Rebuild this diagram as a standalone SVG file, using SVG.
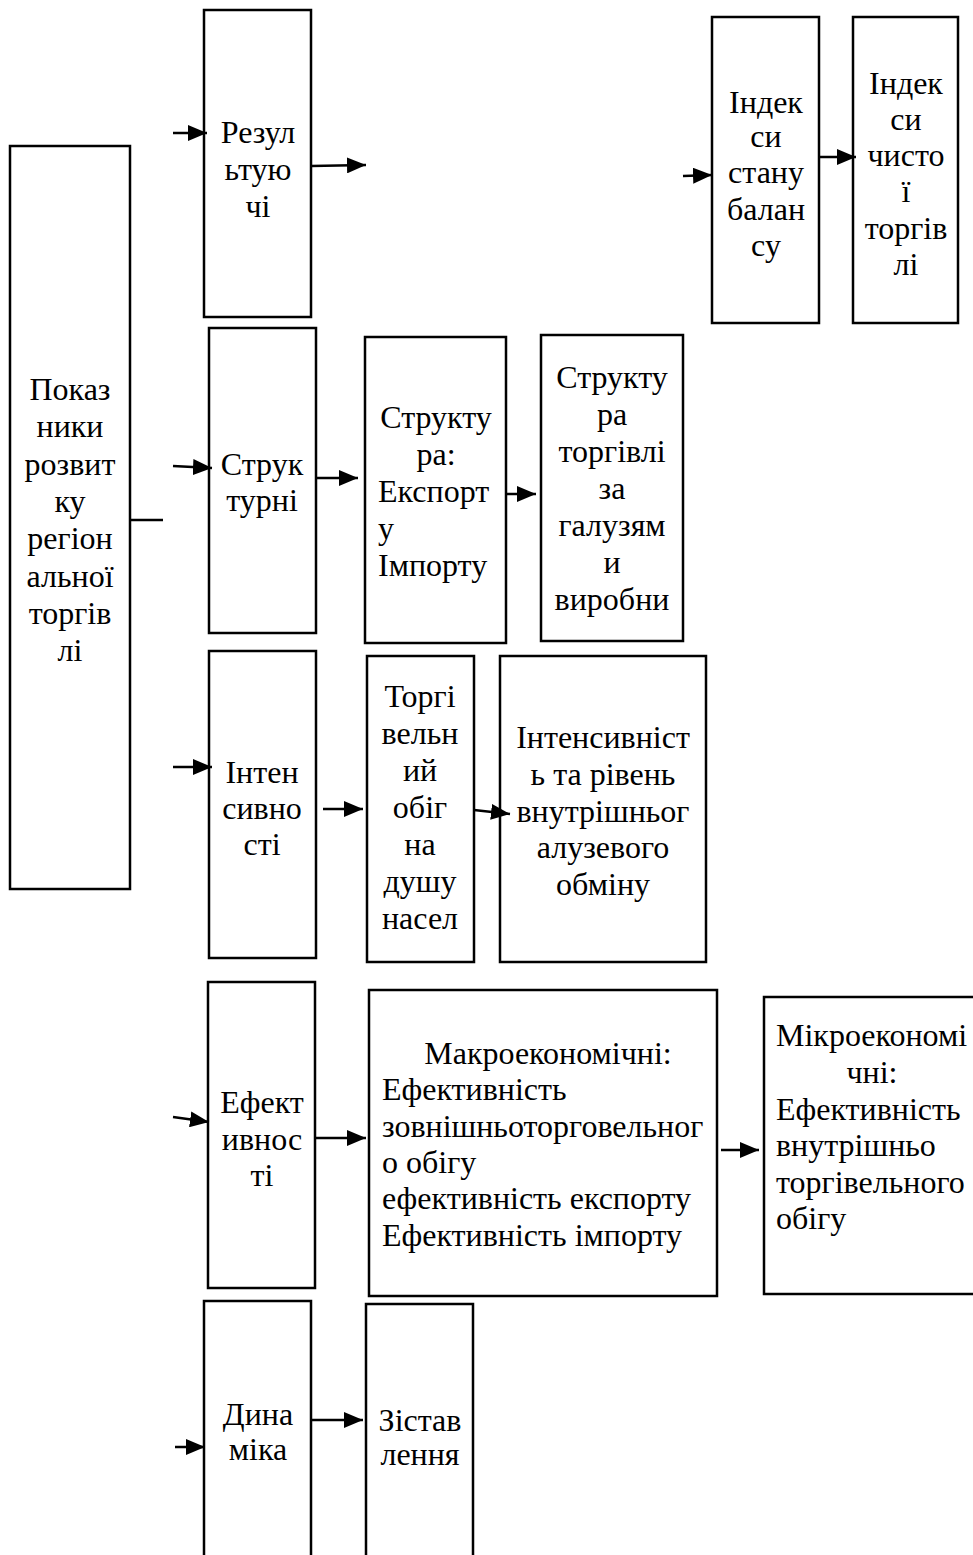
<svg xmlns="http://www.w3.org/2000/svg" width="973" height="1555" viewBox="0 0 973 1555">
<style>
.box{fill:#fff;stroke:#000;stroke-width:2.5}
.t{font-family:"Liberation Serif","Times New Roman",serif;font-size:32px;fill:#000;text-anchor:middle}
.l{text-anchor:start}
.c{stroke:#000;stroke-width:2.5;fill:none}
.a{marker-end:url(#ah)}
</style>
<defs>
<marker id="ah" markerUnits="userSpaceOnUse" viewBox="0 0 20 16" markerWidth="20" markerHeight="16" refX="19" refY="8" orient="auto">
<path d="M0,0 L19,8 L0,16 z" fill="#000"/>
</marker>
</defs>
<rect width="973" height="1555" fill="#fff"/>
<g id="n-main">
<rect class="box" x="10" y="146" width="120" height="743"/>
<text class="t" x="70" y="400">Показ</text>
<text class="t" x="70" y="437">ники</text>
<text class="t" x="70" y="475">розвит</text>
<text class="t" x="70" y="512">ку</text>
<text class="t" x="70" y="549">регіон</text>
<text class="t" x="70" y="587">альної</text>
<text class="t" x="70" y="624">торгів</text>
<text class="t" x="70" y="661">лі</text>
</g>
<g id="n-result">
<rect class="box" x="204" y="10" width="107" height="307"/>
<text class="t" x="258" y="143">Резул</text>
<text class="t" x="258" y="180">ьтую</text>
<text class="t" x="258" y="217">чі</text>
</g>
<g id="n-index-balance">
<rect class="box" x="712" y="17" width="107" height="306"/>
<text class="t" x="766" y="113">Індек</text>
<text class="t" x="766" y="147">си</text>
<text class="t" x="766" y="183">стану</text>
<text class="t" x="766" y="220">балан</text>
<text class="t" x="766" y="256">су</text>
</g>
<g id="n-index-net">
<rect class="box" x="853" y="17" width="105" height="306"/>
<text class="t" x="906" y="94">Індек</text>
<text class="t" x="906" y="130">си</text>
<text class="t" x="906" y="166">чисто</text>
<text class="t" x="906" y="202">ї</text>
<text class="t" x="906" y="239">торгів</text>
<text class="t" x="906" y="275">лі</text>
</g>
<g id="n-struct">
<rect class="box" x="209" y="328" width="107" height="305"/>
<text class="t" x="262" y="475">Струк</text>
<text class="t" x="262" y="511">турні</text>
</g>
<g id="n-struct-exp">
<rect class="box" x="365" y="337" width="141" height="306"/>
<text class="t" x="436" y="428">Структу</text>
<text class="t" x="436" y="465">ра:</text>
<text class="t l" x="378" y="502">Експорт</text>
<text class="t l" x="378" y="539">у</text>
<text class="t l" x="378" y="576">Імпорту</text>
</g>
<g id="n-struct-branch">
<rect class="box" x="541" y="335" width="142" height="306"/>
<text class="t" x="612" y="388">Структу</text>
<text class="t" x="612" y="425">ра</text>
<text class="t" x="612" y="462">торгівлі</text>
<text class="t" x="612" y="499">за</text>
<text class="t" x="612" y="536">галузям</text>
<text class="t" x="612" y="573">и</text>
<text class="t" x="612" y="610">виробни</text>
</g>
<g id="n-intens">
<rect class="box" x="209" y="651" width="107" height="307"/>
<text class="t" x="262" y="783">Інтен</text>
<text class="t" x="262" y="819">сивно</text>
<text class="t" x="262" y="855">сті</text>
</g>
<g id="n-turnover">
<rect class="box" x="367" y="656" width="107" height="306"/>
<text class="t" x="420" y="707">Торгі</text>
<text class="t" x="420" y="744">вельн</text>
<text class="t" x="420" y="781">ий</text>
<text class="t" x="420" y="818">обіг</text>
<text class="t" x="420" y="855">на</text>
<text class="t" x="420" y="892">душу</text>
<text class="t" x="420" y="929">насел</text>
</g>
<g id="n-intens-level">
<rect class="box" x="500" y="656" width="206" height="306"/>
<text class="t" x="603" y="748">Інтенсивніст</text>
<text class="t" x="603" y="785">ь та рівень</text>
<text class="t" x="603" y="822">внутрішньог</text>
<text class="t" x="603" y="858">алузевого</text>
<text class="t" x="603" y="895">обміну</text>
</g>
<g id="n-effect">
<rect class="box" x="208" y="982" width="107" height="306"/>
<text class="t" x="262" y="1113">Ефект</text>
<text class="t" x="262" y="1150">ивнос</text>
<text class="t" x="262" y="1186">ті</text>
</g>
<g id="n-macro">
<rect class="box" x="369" y="990" width="348" height="306"/>
<text class="t" x="548" y="1064">Макроекономічні:</text>
<text class="t l" x="382" y="1100">Ефективність</text>
<text class="t l" x="382" y="1137">зовнішньоторговельног</text>
<text class="t l" x="382" y="1173">о обігу</text>
<text class="t l" x="382" y="1209">ефективність експорту</text>
<text class="t l" x="382" y="1246">Ефективність імпорту</text>
</g>
<g id="n-micro">
<rect class="box" x="764" y="997" width="212" height="297"/>
<text class="t l" x="776" y="1046">Мікроекономі</text>
<text class="t" x="872" y="1083">чні:</text>
<text class="t l" x="776" y="1120">Ефективність</text>
<text class="t l" x="776" y="1156">внутрішньо</text>
<text class="t l" x="776" y="1193">торгівельного</text>
<text class="t l" x="776" y="1229">обігу</text>
</g>
<g id="n-dynamic">
<path class="c" d="M204,1560 V1301 H311 V1560"/>
<text class="t" x="258" y="1425">Дина</text>
<text class="t" x="258" y="1460">міка</text>
</g>
<g id="n-compare">
<path class="c" d="M366,1560 V1304 H473 V1560"/>
<text class="t" x="420" y="1431">Зістав</text>
<text class="t" x="420" y="1465">лення</text>
</g>
<g id="connectors">
<line class="c a" x1="173" y1="133" x2="207" y2="133"/>
<line class="c a" x1="311" y1="166" x2="366" y2="165"/>
<line class="c a" x1="683" y1="176" x2="712" y2="175"/>
<line class="c a" x1="819" y1="157" x2="856" y2="157"/>
<line class="c" x1="130" y1="520" x2="163" y2="520"/>
<line class="c a" x1="173" y1="466" x2="212" y2="468"/>
<line class="c a" x1="316" y1="478" x2="358" y2="478"/>
<line class="c a" x1="506" y1="494" x2="536" y2="494"/>
<line class="c a" x1="173" y1="767" x2="212" y2="767"/>
<line class="c a" x1="323" y1="809" x2="363" y2="809"/>
<line class="c a" x1="474" y1="810" x2="510" y2="814"/>
<line class="c a" x1="173" y1="1117" x2="209" y2="1122"/>
<line class="c a" x1="315" y1="1138" x2="366" y2="1138"/>
<line class="c a" x1="721" y1="1150" x2="759" y2="1150"/>
<line class="c a" x1="175" y1="1447" x2="205" y2="1447"/>
<line class="c a" x1="311" y1="1420" x2="363" y2="1420"/>
</g>
</svg>
